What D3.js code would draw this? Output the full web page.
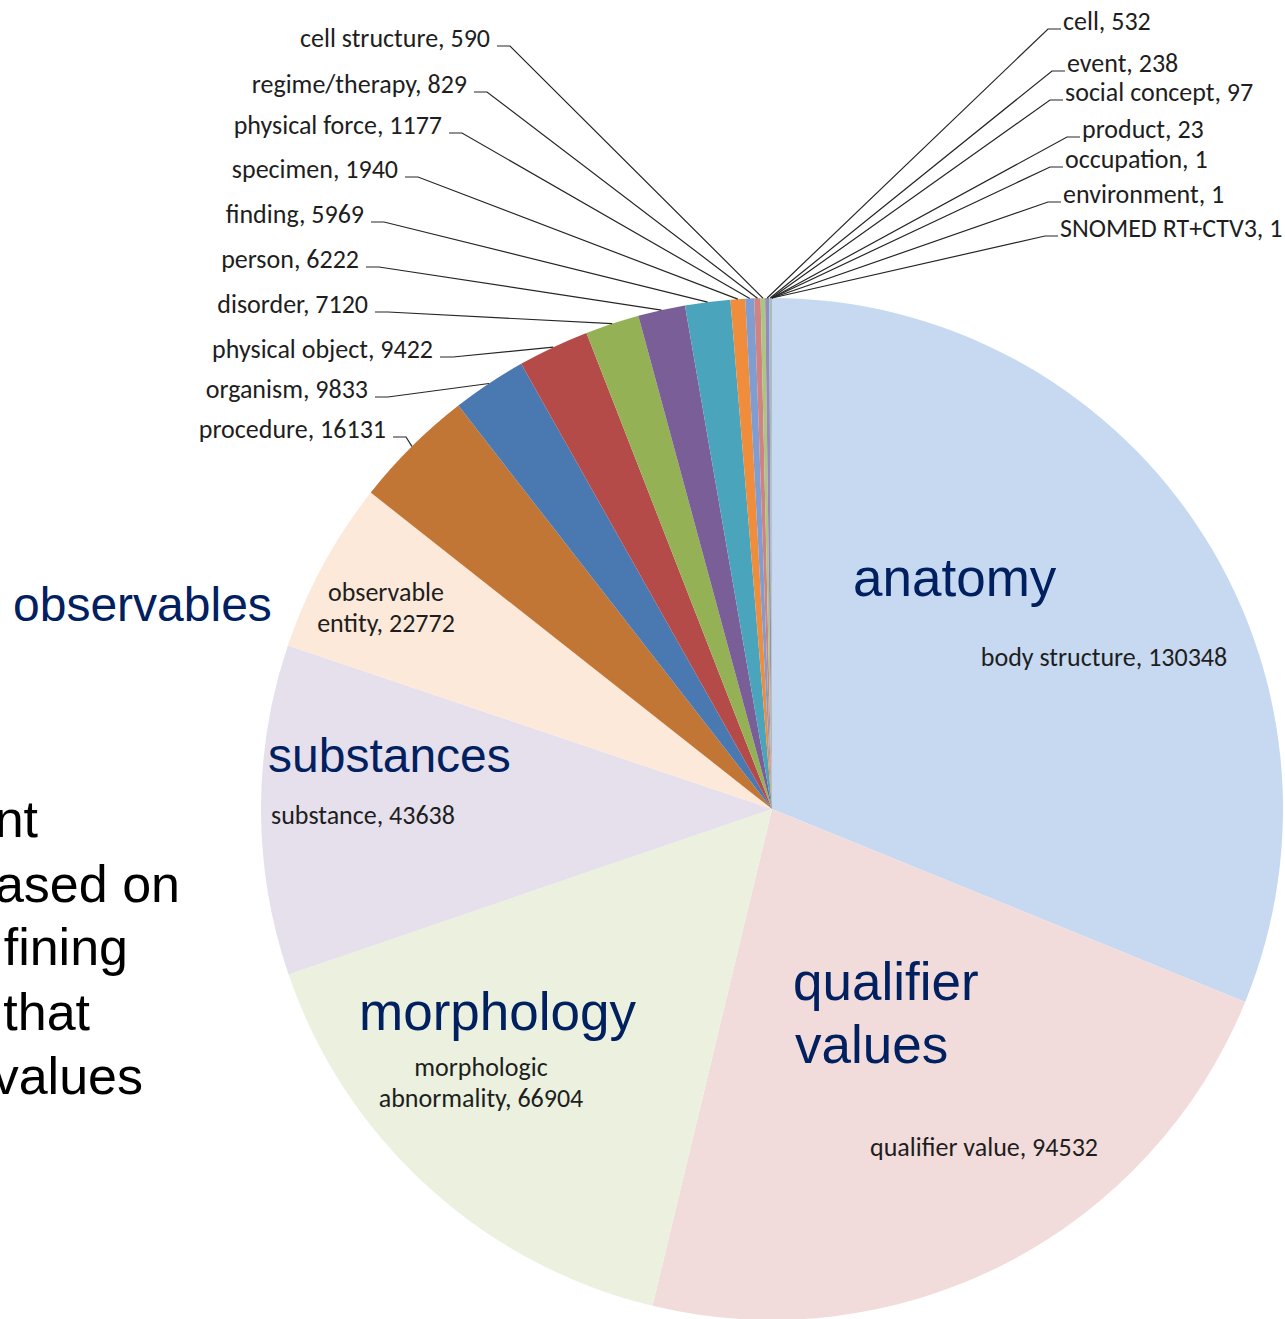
<!DOCTYPE html>
<html>
<head>
<meta charset="utf-8">
<script src="https://cdn.jsdelivr.net/npm/d3@7"></script>
<style>
  body { margin: 0; background: #fff; overflow: hidden; }
  .small { font-family: Carlito, Calibri, "Open Sans", sans-serif; font-size: 26px; fill: #1e1e1e; }
  .big { font-family: "Liberation Sans", Arial, sans-serif; fill: #002060; }
  .side { font-family: "Liberation Sans", Arial, sans-serif; font-size: 52px; fill: #000; }
  .leader { fill: none; stroke: #262626; stroke-width: 1.2; }
</style>
</head>
<body>
<svg id="chart"></svg>
<script>
// slice names and counts, clockwise from 12 o'clock
var categories = ["body structure", "qualifier value", "morphologic abnormality", "substance",
                  "observable entity", "procedure", "organism", "physical object", "disorder",
                  "person", "finding", "specimen", "physical force", "regime/therapy",
                  "cell structure", "cell", "event", "social concept", "product",
                  "occupation", "environment", "SNOMED RT+CTV3"]
var counts = [130348, 94532, 66904, 43638, 22772, 16131, 9833, 9422, 7120, 6222, 5969,
              1940, 1177, 829, 590, 532, 238, 97, 23, 1, 1, 1]

// hand-written group titles on top of the chart
var groupTitles = ["anatomy", "qualifier", "values", "morphology", "substances", "observables"]
// cut-off body text at the left edge of the slide
var sideText = ["nt", "ased on", "fining", "that", "values"]

var colors = ["#c6d9f1", "#f2dcdb", "#ebf1de", "#e5e0ec", "#fde9d9", "#c27635", "#4a78b0",
              "#b54b49", "#94b156", "#7a5e98", "#4aa4bc", "#ef8d3d", "#7f9dd0", "#d18381",
              "#a9c77f", "#9a88ba", "#80c8dc", "#f8b483", "#3f6491", "#8e3a38", "#6b8636", "#5a4577"]

var width = 1285,
    height = 1319,
    cx = 772, cy = 809, radius = 511

var svg = d3.select("#chart")
  .attr("width", width)
  .attr("height", height)

var data = categories.map((c, i) => ({name: c, value: counts[i], color: colors[i]}))

var pie = d3.pie().sort(null).value((d) => d.value),
    arcs = pie(data),
    arc = d3.arc().innerRadius(0).outerRadius(radius),
    rim = d3.arc().innerRadius(radius).outerRadius(radius)

var g = svg.append("g").attr("transform", `translate(${cx},${cy})`)

g.selectAll("path.slice")
  .data(arcs)
  .enter().append("path")
    .attr("class", "slice")
    .attr("d", arc)
    .attr("fill", (d) => d.data.color)

// labels inside the big slices: [center x, first baseline]
var insideAt = {
  "body structure": [1104, 666],
  "qualifier value": [984, 1156],
  "morphologic abnormality": [481, 1076],
  "substance": [363, 824],
  "observable entity": [386, 601]
}
var insideLines = {
  "morphologic abnormality": ["morphologic", "abnormality, "],
  "observable entity": ["observable", "entity, "]
}

// labels outside with leader lines: [x, baseline, side]
var outsideAt = {
  "procedure": [386, 438, "L"],
  "organism": [368, 398, "L"],
  "physical object": [433, 358, "L"],
  "disorder": [368, 313, "L"],
  "person": [359, 268, "L"],
  "finding": [364, 223, "L"],
  "specimen": [398, 178, "L"],
  "physical force": [442, 134, "L"],
  "regime/therapy": [467, 93, "L"],
  "cell structure": [490, 47, "L"],
  "cell": [1063, 30, "R"],
  "event": [1067, 72, "R"],
  "social concept": [1065, 101, "R"],
  "product": [1082, 138, "R"],
  "occupation": [1065, 168, "R"],
  "environment": [1063, 203, "R"],
  "SNOMED RT+CTV3": [1060, 237, "R"]
}

arcs.forEach((d) => {
  var name = d.data.name
  if (insideAt[name]) {
    var p = insideAt[name],
        lines = insideLines[name] || [name + ", "]
    var t = svg.append("text")
      .attr("class", "small")
      .attr("text-anchor", "middle")
    lines.forEach((ln, i) => {
      t.append("tspan")
        .attr("x", p[0])
        .attr("y", p[1] + i * 31)
        .text(i === lines.length - 1 ? ln + d.data.value : ln)
    })
  } else if (outsideAt[name]) {
    var q = outsideAt[name],
        end = rim.centroid(d),
        ex = cx + end[0], ey = cy + end[1],
        ly = q[1] - 1,
        x0, x1
    svg.append("text")
      .attr("class", "small")
      .attr("x", q[0])
      .attr("y", q[1])
      .attr("text-anchor", q[2] === "L" ? "end" : "start")
      .text(`${name}, ${d.data.value}`)
    if (q[2] === "L") { x0 = q[0] + 7; x1 = q[0] + 20 }
    else { x0 = q[0] - 2; x1 = q[0] - 15 }
    svg.append("path")
      .attr("class", "leader")
      .attr("d", `M${x0},${ly}L${x1},${ly}L${ex},${ey}`)
  }
})

// group titles: [x, baseline, font size]
var titleAt = [[853, 596, 53], [793, 1000, 53], [795, 1063, 53], [359, 1030, 53],
               [268, 772, 48], [13, 621, 48]]
groupTitles.forEach((t, i) => {
  svg.append("text")
    .attr("class", "big")
    .attr("x", titleAt[i][0])
    .attr("y", titleAt[i][1])
    .style("font-size", titleAt[i][2] + "px")
    .text(t)
})

var sideAt = [[38, 837], [180, 902], [128, 965], [90, 1030], [143, 1094]]
sideText.forEach((t, i) => {
  svg.append("text")
    .attr("class", "side")
    .attr("x", sideAt[i][0])
    .attr("y", sideAt[i][1])
    .attr("text-anchor", "end")
    .text(t)
})
</script>
</body>
</html>
